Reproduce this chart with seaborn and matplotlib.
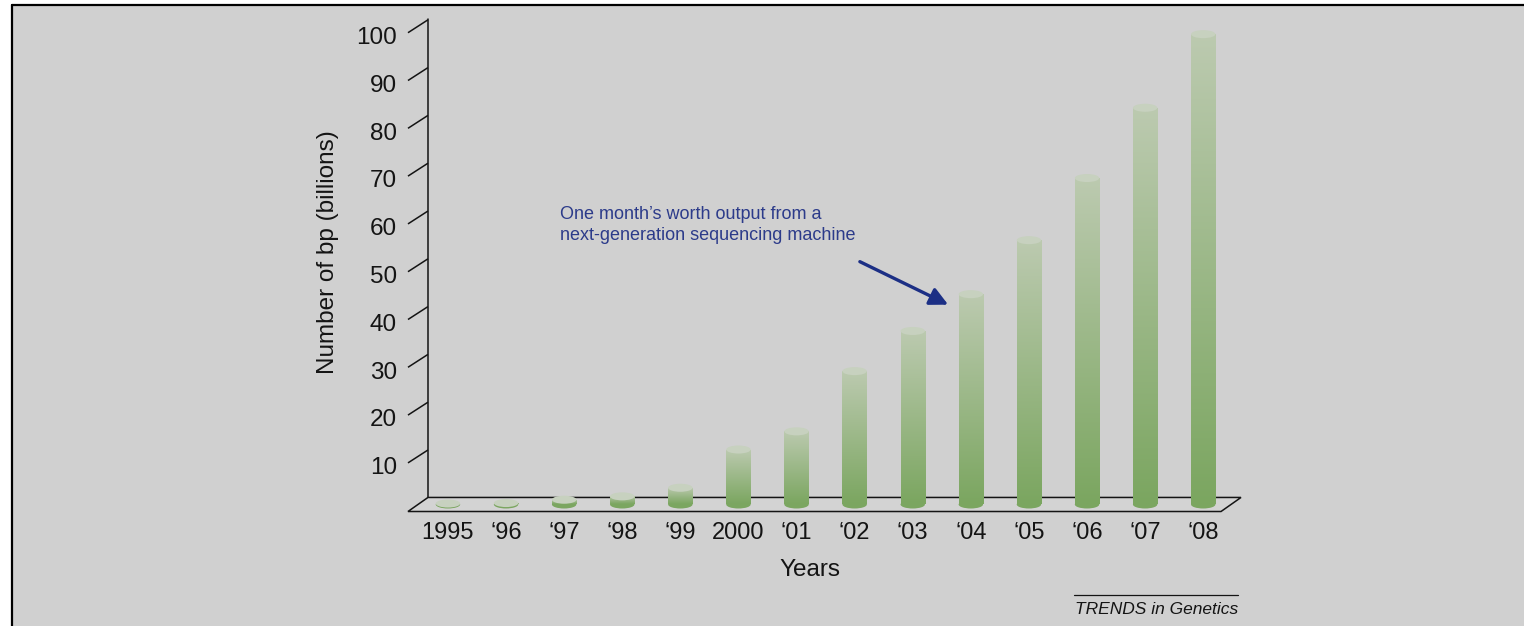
import numpy as np
import pandas as pd
import matplotlib
matplotlib.use("Agg")
import matplotlib.pyplot as plt
import matplotlib.transforms as mtransforms
from matplotlib.patches import Ellipse, Polygon, Rectangle
from matplotlib.lines import Line2D
from matplotlib.colors import LinearSegmentedColormap
import seaborn as sns

# ---------------- data ----------------
years = ["1995", "\u201896", "\u201897", "\u201898", "\u201899", "2000", "\u201801",
         "\u201802", "\u201803", "\u201804", "\u201805", "\u201806", "\u201807", "\u201808"]
bp_billions = [0.2, 0.3, 1.0, 1.7, 3.5, 11.5, 15.3, 27.9, 36.3, 44.0, 55.3, 68.3, 83.0, 98.4]
y_ticks = [10, 20, 30, 40, 50, 60, 70, 80, 90, 100]
annotation_text = "One month\u2019s worth output from a\nnext-generation sequencing machine"
annotated_year = "\u201804"

# ---------------- style ----------------
sns.set_style("white")
plt.rcParams["font.family"] = ["Liberation Sans", "DejaVu Sans"]

BG = "#d0d0d0"
FLOOR = "#d3d3d3"
INK = "#141414"
TOP_C = "#bccab0"
BOT_C = "#7ba660"
CAP_C = "#c7d1bf"
NAVY_T = "#2c3b8a"
NAVY_A = "#1c2f85"

# pseudo-3D layout constants (data units)
BAR_W = 0.42
CAP_H = 1.68
DEPTH_X = 0.172
DEPTH_Y = 1.47

fig = plt.figure(figsize=(15.24, 6.26), dpi=100)
fig.patch.set_facecolor("white")
fig.patches.append(Rectangle((12 / 1524, 0), 1 - 12 / 1524, 621 / 626,
                             transform=fig.transFigure, fc=BG, ec="none", zorder=-10))
fig.lines.append(Line2D([12 / 1524, 12 / 1524], [0, 621 / 626], transform=fig.transFigure,
                        color="black", lw=1.6))
fig.lines.append(Line2D([12 / 1524, 1], [621 / 626, 621 / 626], transform=fig.transFigure,
                        color="black", lw=1.6))

ax = fig.add_axes([0.2677, 0.1829, 0.5466, 0.8053])
ax.set_facecolor("none")

df = pd.DataFrame({"year": years, "bp": bp_billions})
sns.barplot(data=df, x="year", y="bp", order=years, color=BOT_C, width=BAR_W,
            saturation=1, ax=ax, zorder=2)

n = len(years)
x_back_left = -0.344
x_front_left = x_back_left - 2 * DEPTH_X
x_back_right = n - 1 + 0.65
x_front_right = x_back_right - 2 * DEPTH_X

# floor
floor = Polygon([(x_back_left, DEPTH_Y), (x_back_right, DEPTH_Y),
                 (x_front_right, -DEPTH_Y), (x_front_left, -DEPTH_Y)],
                closed=True, fc=FLOOR, ec=INK, lw=1.1, zorder=1, clip_on=False)
ax.add_patch(floor)

# vertical axis and slanted ticks
ax.plot([x_back_left, x_back_left], [DEPTH_Y, max(y_ticks) + DEPTH_Y], color=INK,
        lw=1.1, clip_on=False, zorder=1.5)
for v in y_ticks:
    ax.plot([x_back_left, x_front_left], [v + DEPTH_Y - 0.07, v - DEPTH_Y + 0.17],
            color=INK, lw=1.1, clip_on=False, zorder=1.5, solid_capstyle="butt")

# cylinders: gradient bodies + caps
cmap = LinearSegmentedColormap.from_list("cyl", [BOT_C, TOP_C])
grad = np.linspace(0, 1, 256).reshape(-1, 1)
bars = [p for p in ax.patches if isinstance(p, Rectangle) and p is not floor]
for p in bars:
    x0, w, h = p.get_x(), p.get_width(), p.get_height()
    xc = x0 + w / 2
    p.set_edgecolor("none")
    im = ax.imshow(grad, extent=[x0, x0 + w, 0, h], origin="lower", cmap=cmap,
                   aspect="auto", zorder=2.1, interpolation="bilinear")
    im.set_clip_path(p)
    ax.add_patch(Ellipse((xc, 0), w, CAP_H, fc=BOT_C, ec="none", zorder=1.9))
    ax.add_patch(Ellipse((xc, h), w, CAP_H, fc=CAP_C, ec="none", zorder=3))

ax.set_xlim(x_front_left, x_back_right)
ax.set_ylim(-DEPTH_Y, 104)

for s in ax.spines.values():
    s.set_visible(False)
ax.grid(False)

ax.set_xticks(range(n), labels=years)
ax.set_yticks(y_ticks, labels=[str(v) for v in y_ticks])
ax.tick_params(axis="x", length=0, pad=7.5, labelsize=17, labelcolor=INK)
ax.tick_params(axis="y", length=0, pad=8, labelsize=17.5, labelcolor=INK)
shift = mtransforms.ScaledTranslation(0, -9 / 100, fig.dpi_scale_trans)
for lab in ax.get_yticklabels():
    lab.set_transform(lab.get_transform() + shift)

ax.set_xlabel("Years", fontsize=17.5, color=INK)
ax.xaxis.set_label_coords(0.4826, -0.094)
ax.set_ylabel("Number of bp (billions)", fontsize=17.5, color=INK)
ax.yaxis.set_label_coords(-0.0830, 0.515)

# annotation
idx = years.index(annotated_year)
ax.text(1.93, 62.4, annotation_text, ha="left", va="top", fontsize=13, color=NAVY_T,
        linespacing=1.3)
ax.annotate("", xy=(idx - 0.39, bp_billions[idx] - 2.2), xytext=(idx - 1.91, 50.8),
            arrowprops=dict(arrowstyle="-|>", color=NAVY_A, lw=2.4, mutation_scale=27,
                            shrinkA=0, shrinkB=0))

# footer
fig.text(1238 / 1524, (626 - 614) / 626, "TRENDS in Genetics", ha="right", va="baseline",
         style="italic", fontsize=12.5, color=INK)
fig.lines.append(Line2D([1074 / 1524, 1238 / 1524], [(626 - 595) / 626] * 2,
                        transform=fig.transFigure, color=INK, lw=0.9))

fig.savefig("out.png", dpi=100, facecolor=fig.get_facecolor())
